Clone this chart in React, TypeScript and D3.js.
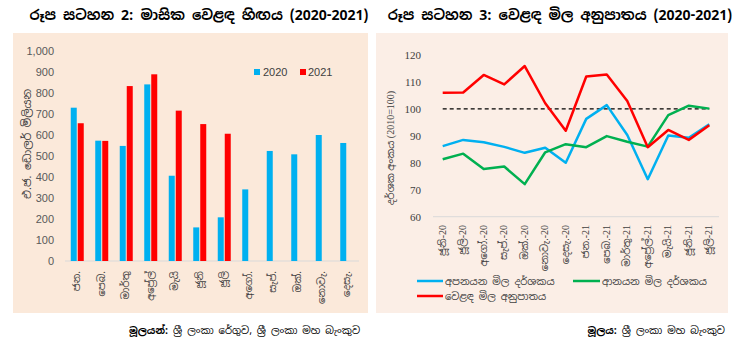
import React from "react";
import * as d3 from "d3";

const months = ["ජන.", "පෙබ.", "මාර්තු", "අප්‍රේල්", "මැයි", "ජූනි", "ජූලි", "අගෝ.", "සැප්.", "ඔක්.", "නොවැ.", "දෙසැ."];
const deficit2020 = [730, 573, 548, 841, 406, 160, 208, 341, 524, 508, 600, 562];
const deficit2021 = [656, 572, 833, 889, 716, 652, 606];
const leftTicks = [0, 100, 200, 300, 400, 500, 600, 700, 800, 900, 1000];

const periods = ["ජූනි-20", "ජූලි-20", "අගෝ.-20", "සැප්.-20", "ඔක්.-20", "නොවැ.-20", "දෙසැ.-20", "ජන.-21", "පෙබ.-21", "මාර්තු-21", "අප්‍රේල්-21", "මැයි-21", "ජූනි-21", "ජූලි-21"];
const exportIdx = [86.2, 88.5, 87.6, 85.9, 83.7, 85.6, 80.0, 96.3, 101.4, 90.3, 73.9, 90.1, 89.3, 94.3];
const importIdx = [81.3, 83.4, 77.7, 78.6, 72.1, 83.9, 86.9, 85.8, 89.9, 87.8, 86.0, 97.7, 101.2, 100.1];
const totIdx = [106.0, 106.1, 112.6, 109.1, 115.9, 102.1, 91.9, 112.0, 112.8, 102.9, 85.8, 92.2, 88.5, 93.9];
const rightTicks = [60, 70, 80, 90, 100, 110, 120];

const SIN = "'Noto Sans Sinhala', 'Iskoola Pota', 'Noto Sans', sans-serif";
const SERIF = "'Liberation Serif', 'DejaVu Serif', serif";
const SERIF_SIN = "'Liberation Serif', 'Noto Sans Sinhala', 'Noto Serif Sinhala', serif";
const BLUE = "#00B0F0";
const RED = "#FF0000";
const GREEN = "#00B050";

export default function App() {
  // Left chart scales
  const xL = d3.scaleBand<string>().domain(months).range([65, 359]);
  const yL = d3.scaleLinear().domain([0, 1000]).range([261, 51]);
  const bw = 6;

  // Right chart scales
  const xR = d3.scalePoint<string>().domain(periods).range([442.7, 709.3]);
  const yR = d3.scaleLinear().domain([60, 120]).range([216.7, 55]);
  const line = d3
    .line<number>()
    .x((_, i) => xR(periods[i]) as number)
    .y((v) => yR(v));

  const series = [
    { data: exportIdx, color: BLUE },
    { data: importIdx, color: GREEN },
    { data: totIdx, color: RED },
  ];

  return (
    <svg width={750} height={356} style={{ position: "absolute", left: 0, top: 0 }}>
      <rect x={0} y={0} width={750} height={356} fill="#ffffff" />
      {/* Panels */}
      <rect x={13} y={33} width={355} height={280} fill="#FBE9DA" />
      <rect x={376} y={33} width={352} height={280} fill="#FBEEE6" />

      {/* Titles */}
      <text x={199} y={20} textAnchor="middle" fontFamily={SIN} fontWeight="bold" fontSize={14} fill="#000">
        රූප සටහන 2: මාසික වෙළඳ හිඟය (2020-2021)
      </text>
      <text x={560} y={20} textAnchor="middle" fontFamily={SIN} fontWeight="bold" fontSize={14} fill="#000">
        රූප සටහන 3: වෙළඳ මිල අනුපාතය (2020-2021)
      </text>

      {/* Left chart */}
      {leftTicks.map((t) => (
        <text key={t} x={54} y={yL(t) + 4} textAnchor="end" fontFamily="'Liberation Sans', Arial, sans-serif" fontSize={11} fill="#595959">
          {d3.format(",")(t)}
        </text>
      ))}
      <line x1={65} x2={359} y1={261} y2={261} stroke="#D9D9D9" strokeWidth={1} />
      {months.map((m, i) => {
        const c = (xL(m) as number) + xL.bandwidth() / 2;
        return (
          <g key={m}>
            <rect x={c - bw - 0.5} y={yL(deficit2020[i])} width={bw} height={261 - yL(deficit2020[i])} fill={BLUE} />
            {i < deficit2021.length && (
              <rect x={c + 0.5} y={yL(deficit2021[i])} width={bw} height={261 - yL(deficit2021[i])} fill={RED} />
            )}
            <text
              transform={`translate(${c + 3},271) rotate(-90)`}
              textAnchor="end"
              fontFamily={SIN}
              fontSize={10}
              fill="#404040"
            >
              {m}
            </text>
          </g>
        );
      })}
      <text transform="translate(31,144) rotate(-90)" textAnchor="middle" fontFamily={SIN} fontSize={11} fill="#404040">
        එ.ජ. ඩොලර් මිලියන
      </text>
      {/* Left legend */}
      <rect x={254} y={69} width={6} height={6} fill={BLUE} />
      <text x={263} y={76} fontFamily="'Liberation Sans', Arial, sans-serif" fontSize={11} fill="#404040">2020</text>
      <rect x={300} y={69} width={6} height={6} fill={RED} />
      <text x={308} y={76} fontFamily="'Liberation Sans', Arial, sans-serif" fontSize={11} fill="#404040">2021</text>

      {/* Right chart */}
      {rightTicks.map((t) => (
        <text key={t} x={421} y={yR(t) + 4} textAnchor="end" fontFamily={SERIF} fontSize={11} fill="#404040">
          {t}
        </text>
      ))}
      <line x1={433} x2={719} y1={216.7} y2={216.7} stroke="#D9D9D9" strokeWidth={1} />
      <line
        x1={xR(periods[0]) as number}
        x2={xR(periods[periods.length - 1]) as number}
        y1={yR(100)}
        y2={yR(100)}
        stroke="#000"
        strokeWidth={1.2}
        strokeDasharray="4,3"
      />
      {series.map((s, i) => (
        <path key={i} d={line(s.data) as string} fill="none" stroke={s.color} strokeWidth={2.5} strokeLinejoin="round" />
      ))}
      {periods.map((p) => (
        <text
          key={p}
          transform={`translate(${(xR(p) as number) + 3},225) rotate(-90)`}
          textAnchor="end"
          fontFamily={SERIF_SIN}
          fontSize={10}
          fill="#404040"
        >
          {p}
        </text>
      ))}
      <text transform="translate(394,148) rotate(-90)" textAnchor="middle" fontFamily={SERIF_SIN} fontSize={10} fill="#404040">
        දර්ශක අංකය (2010=100)
      </text>
      {/* Right legend */}
      <line x1={417} x2={443} y1={281} y2={281} stroke={BLUE} strokeWidth={2.5} />
      <text x={445} y={285} fontFamily={SIN} fontSize={10} fill="#404040">අපනයන මිල දර්ශකය</text>
      <line x1={573} x2={600} y1={281} y2={281} stroke={GREEN} strokeWidth={2.5} />
      <text x={602} y={285} fontFamily={SIN} fontSize={10} fill="#404040">ආනයන මිල දර්ශකය</text>
      <line x1={417} x2={443} y1={296} y2={296} stroke={RED} strokeWidth={2.5} />
      <text x={445} y={300} fontFamily={SIN} fontSize={10} fill="#404040">වෙළඳ මිල අනුපාතය</text>

      {/* Sources */}
      <text x={360} y={334} textAnchor="end" fontFamily={SIN} fontSize={10} fill="#000">
        <tspan fontWeight="bold">මූලයන්:</tspan> ශ්‍රී ලංකා රේගුව, ශ්‍රී ලංකා මහ බැංකුව
      </text>
      <text x={725} y={334} textAnchor="end" fontFamily={SIN} fontSize={10} fill="#000">
        <tspan fontWeight="bold">මූලය:</tspan> ශ්‍රී ලංකා මහ බැංකුව
      </text>
    </svg>
  );
}
